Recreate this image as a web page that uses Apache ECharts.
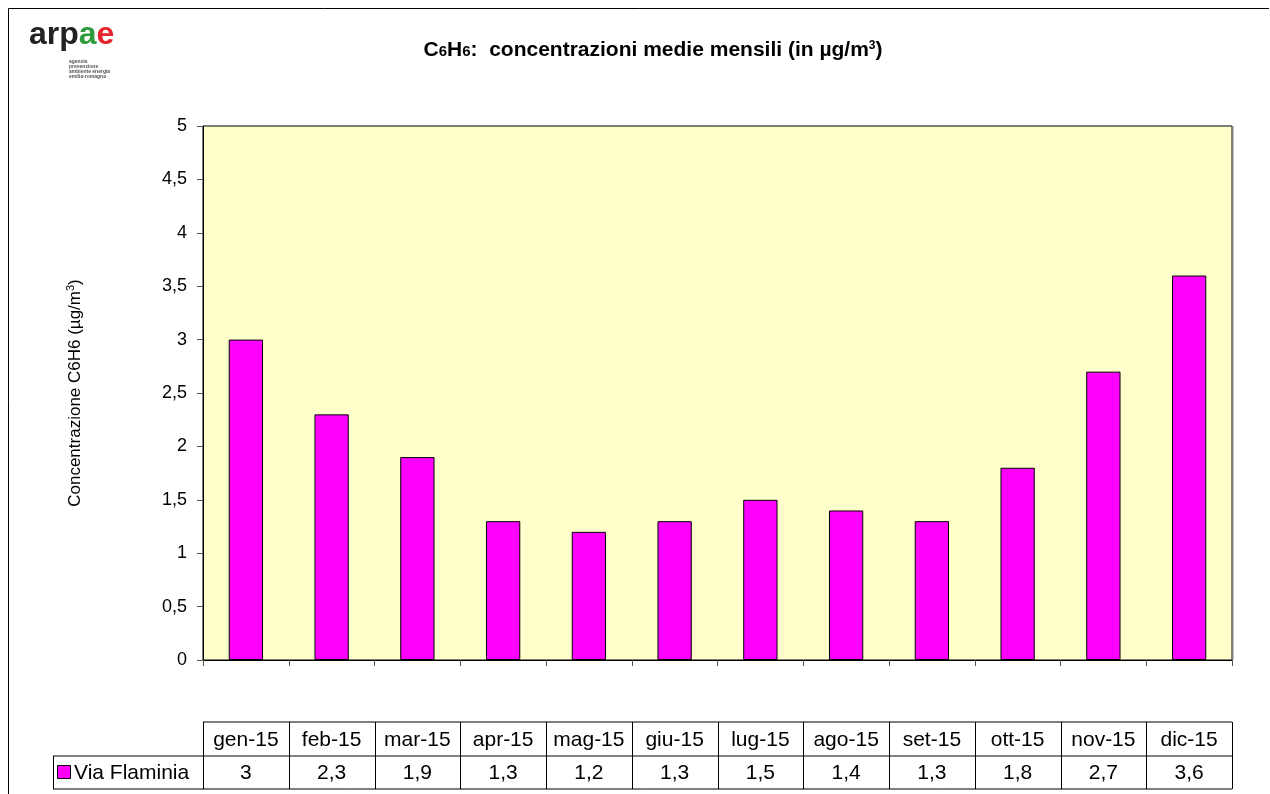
<!DOCTYPE html>
<html>
<head>
<meta charset="utf-8">
<script src="https://cdn.jsdelivr.net/npm/echarts@6/dist/echarts.min.js"></script>
<style>
  html, body { margin: 0; padding: 0; background: #fff; }
  #chart { width: 1270px; height: 794px; }
</style>
</head>
<body>
<div id="chart"></div>
<script>
const months = ['gen-15', 'feb-15', 'mar-15', 'apr-15', 'mag-15', 'giu-15', 'lug-15', 'ago-15', 'set-15', 'ott-15', 'nov-15', 'dic-15'];
const viaFlaminia = [3, 2.3, 1.9, 1.3, 1.2, 1.3, 1.5, 1.4, 1.3, 1.8, 2.7, 3.6];
const yTicks = { min: 0, max: 5, interval: 0.5 };
const seriesName = 'Via Flaminia';

const font = 'Liberation Sans, Arial, sans-serif';
const fmt = v => String(v).replace('.', ',');

// plot box
const gx = 203, gy = 126, gw = 1029, gh = 534;

const chart = echarts.init(document.getElementById('chart'), null, { renderer: 'canvas' });

function tableGraphics() {
  const els = [];
  const top = 722, mid = 756, bot = 789;
  const colW = gw / months.length;
  const line = (x1, y1, x2, y2) => ({
    type: 'line', silent: true,
    shape: { x1, y1, x2, y2 },
    style: { stroke: '#000', lineWidth: 1 }
  });
  els.push(line(gx, top, gx + gw, top));
  els.push(line(53, mid, gx + gw, mid));
  els.push(line(53, bot, gx + gw, bot));
  els.push(line(53.5, mid, 53.5, bot));
  for (let i = 0; i <= months.length; i++) {
    const x = Math.round(gx + i * colW) + 0.5;
    els.push(line(x, top, x, bot));
  }
  months.forEach((m, i) => {
    const cx = gx + (i + 0.5) * colW;
    els.push({
      type: 'text', silent: true, x: cx, y: (top + mid) / 2 + 1,
      style: { text: m, fill: '#000', font: '21px ' + font, align: 'center', verticalAlign: 'middle' }
    });
    els.push({
      type: 'text', silent: true, x: cx, y: (mid + bot) / 2 + 1,
      style: { text: fmt(viaFlaminia[i]), fill: '#000', font: '21px ' + font, align: 'center', verticalAlign: 'middle' }
    });
  });
  els.push({
    type: 'rect', silent: true,
    shape: { x: 57.5, y: 765.5, width: 13, height: 13 },
    style: { fill: '#FF00FF', stroke: '#000', lineWidth: 1 }
  });
  els.push({
    type: 'text', silent: true, x: 74, y: (mid + bot) / 2 + 1,
    style: { text: seriesName, fill: '#000', font: '21px ' + font, align: 'left', verticalAlign: 'middle' }
  });
  return els;
}

chart.setOption({
  animation: false,
  backgroundColor: '#fff',
  title: {
    left: 648,
    top: 33,
    textAlign: 'center',
    text: '{b|C}{s|6}{b|H}{s|6}{b|:  concentrazioni medie mensili (in µg/m}{sup|3}{b|)}',
    textStyle: {
      rich: {
        b: { fontFamily: font, fontWeight: 'bold', fontSize: 21, color: '#000', lineHeight: 24 },
        s: { fontFamily: font, fontWeight: 'bold', fontSize: 15, color: '#000', lineHeight: 24, padding: [4, 0, 0, 0] },
        sup: { fontFamily: font, fontWeight: 'bold', fontSize: 12, color: '#000', lineHeight: 24, padding: [0, 0, 9, 0] }
      }
    }
  },
  grid: {
    left: gx, top: gy, width: gw, height: gh,
    show: true,
    backgroundColor: '#FFFFCC',
    borderColor: '#000',
    borderWidth: 1
  },
  xAxis: {
    type: 'category',
    data: months,
    axisLine: { lineStyle: { color: '#000', width: 1 } },
    axisTick: { show: true, length: 6, inside: false, lineStyle: { color: '#555' } },
    axisLabel: { show: false },
    splitLine: { show: false }
  },
  yAxis: {
    type: 'value',
    min: yTicks.min,
    max: yTicks.max,
    interval: yTicks.interval,
    name: 'Concentrazione C6H6 (µg/m{sup|3})',
    nameLocation: 'middle',
    nameGap: 117,
    nameRotate: 90,
    nameTextStyle: {
      fontFamily: font, fontSize: 17, color: '#000',
      rich: { sup: { fontFamily: font, fontSize: 11, color: '#000', padding: [0, 0, 10, 0] } }
    },
    axisLine: { show: true, lineStyle: { color: '#000', width: 1 } },
    axisTick: { show: true, length: 6, lineStyle: { color: '#555' } },
    axisLabel: { fontFamily: font, fontSize: 18, color: '#000', margin: 16, formatter: v => fmt(v) },
    splitLine: { show: false }
  },
  series: [{
    name: seriesName,
    type: 'bar',
    data: viaFlaminia,
    barWidth: '40%',
    itemStyle: { color: '#FF00FF', borderColor: '#000', borderWidth: 1 }
  }],
  graphic: [
    // outer frame (left and top edges visible)
    { type: 'line', silent: true, shape: { x1: 8.5, y1: 8.5, x2: 1269, y2: 8.5 }, style: { stroke: '#000', lineWidth: 1 } },
    { type: 'line', silent: true, shape: { x1: 8.5, y1: 8.5, x2: 8.5, y2: 794 }, style: { stroke: '#000', lineWidth: 1 } },
    // right edge of plot box is grey
    { type: 'line', silent: true, shape: { x1: gx + gw + 0.5, y1: gy, x2: gx + gw + 0.5, y2: gy + gh }, style: { stroke: '#808080', lineWidth: 2 } },
    // logo
    {
      type: 'text', silent: true, x: 29, y: 19,
      style: {
        text: '{k|arp}{g|a}{r|e}',
        rich: {
          k: { fontFamily: font, fontWeight: 'bold', fontSize: 32, fill: '#222' },
          g: { fontFamily: font, fontWeight: 'bold', fontSize: 32, fill: '#2e9b3a' },
          r: { fontFamily: font, fontWeight: 'bold', fontSize: 32, fill: '#e3262b' }
        }
      }
    },
    {
      type: 'text', silent: true, x: 69, y: 59,
      style: {
        text: 'agenzia\nprevenzione\nambiente energia\nemilia-romagna',
        fill: '#555', font: 'bold 5px ' + font, lineHeight: 5
      }
    },
    ...tableGraphics()
  ]
});
</script>
</body>
</html>
